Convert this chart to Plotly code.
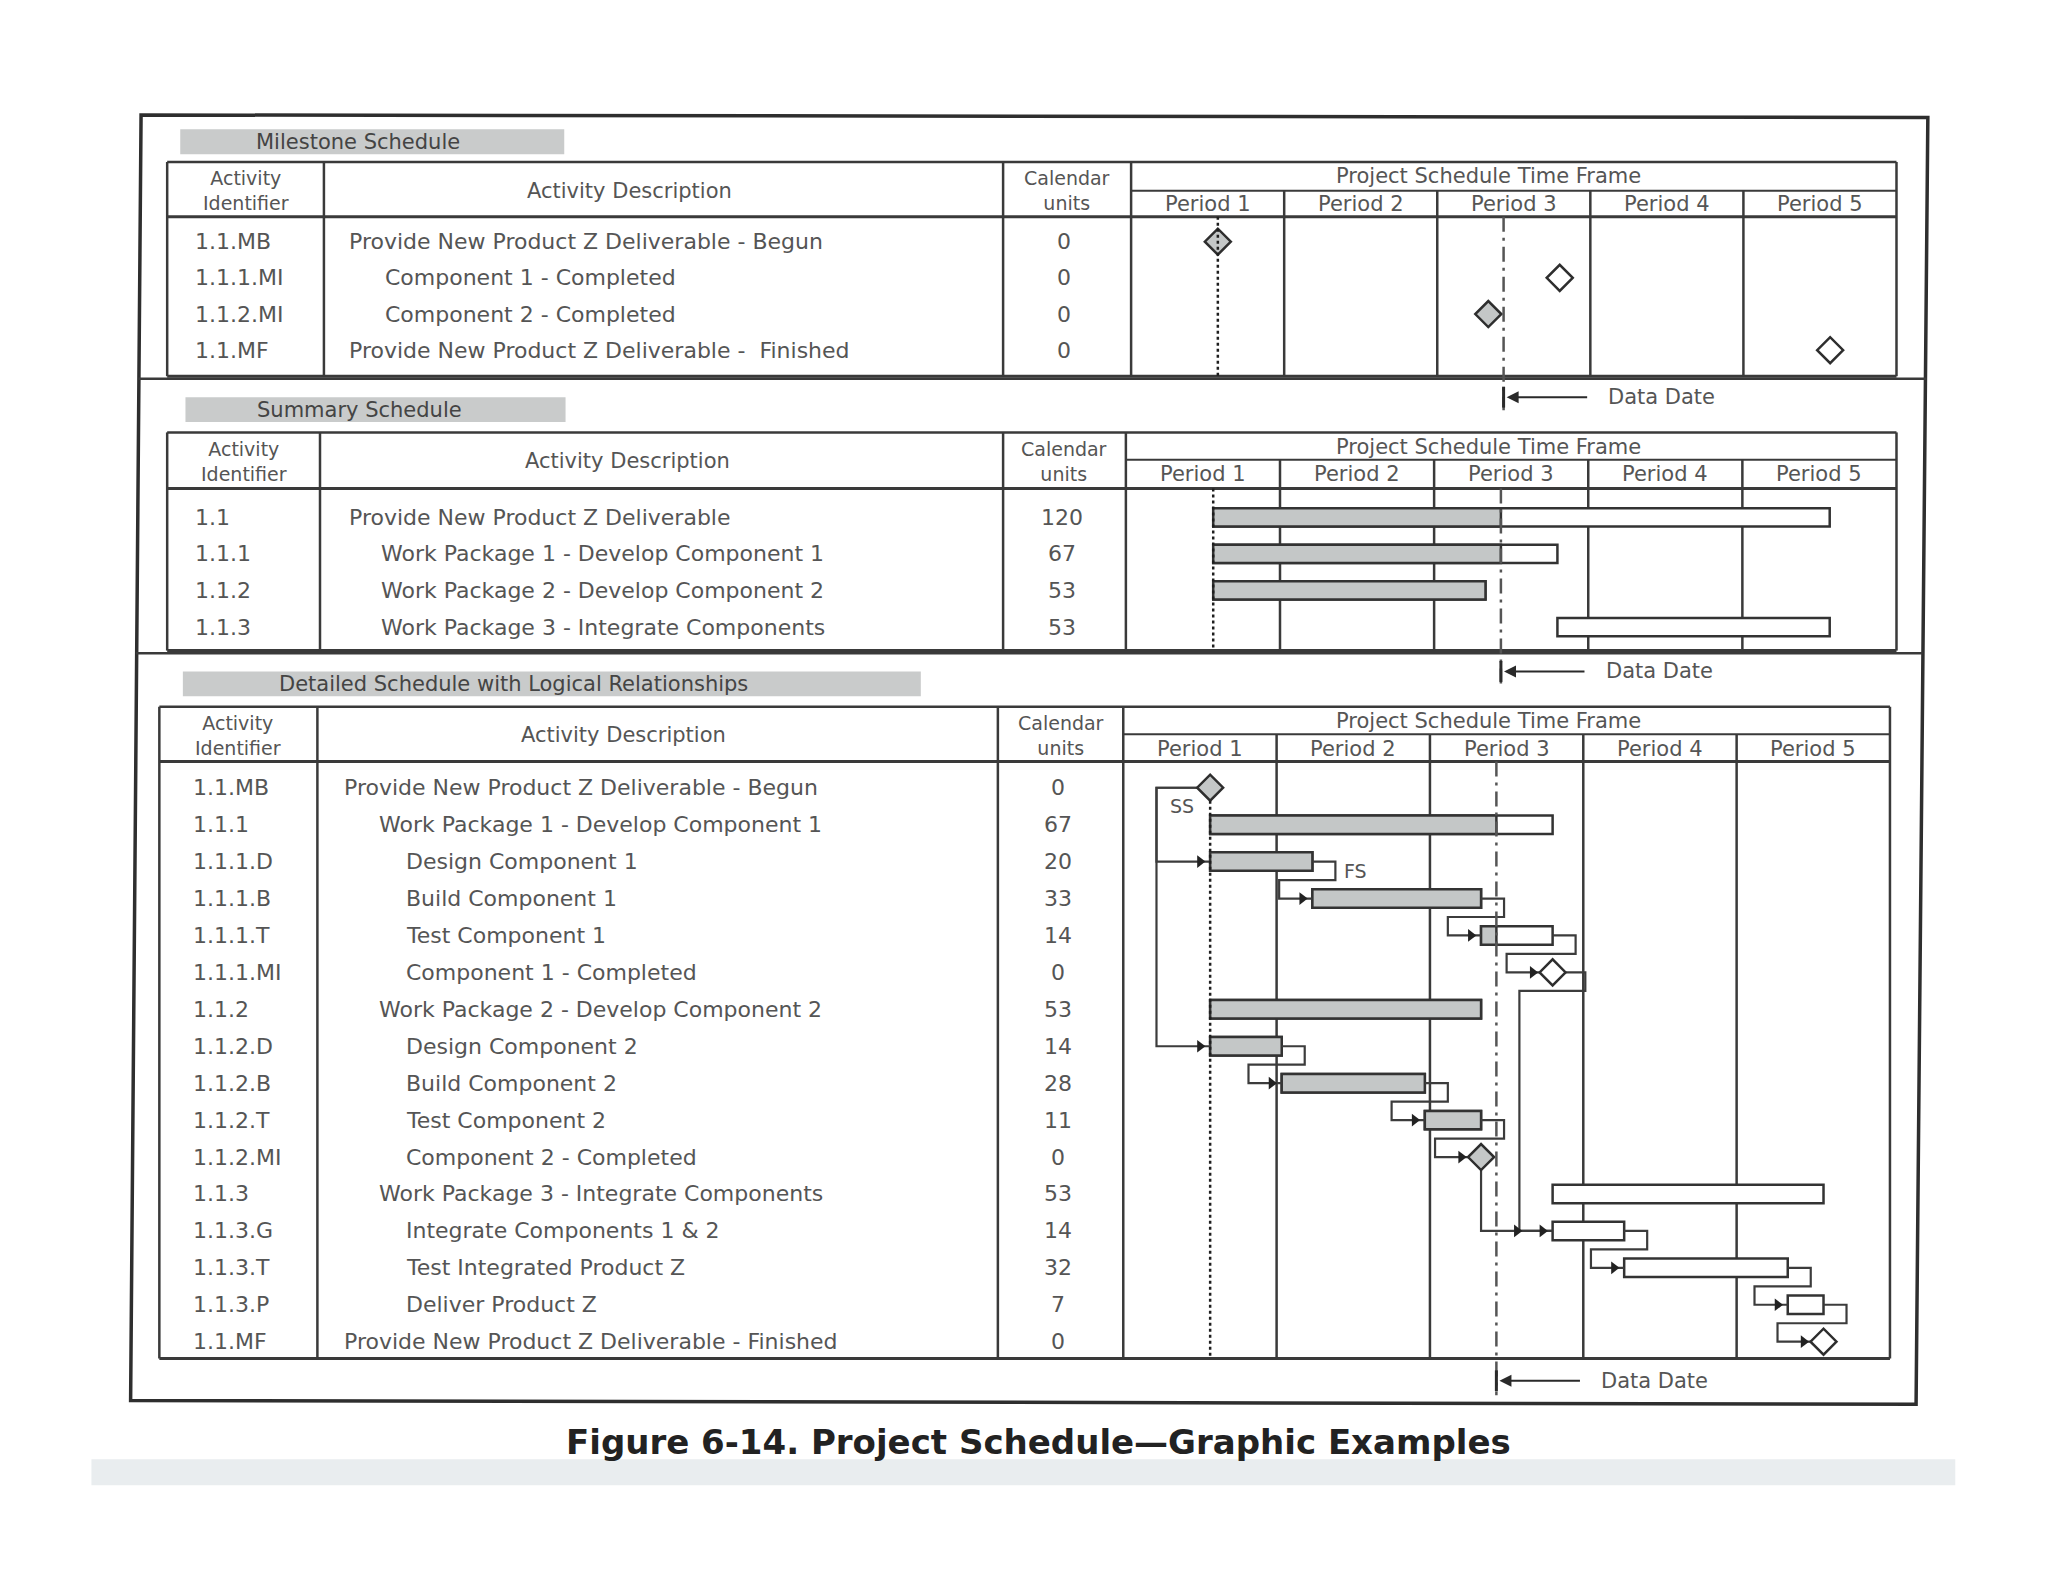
import plotly.graph_objects as go

# ---------------- data ----------------
period_labels = ["Period 1", "Period 2", "Period 3", "Period 4", "Period 5"]
period_length = 30
project_start = 17
data_date = 73

ms_ids = ["1.1.MB", "1.1.1.MI", "1.1.2.MI", "1.1.MF"]
ms_desc = ["Provide New Product Z Deliverable - Begun",
           "Component 1 - Completed",
           "Component 2 - Completed",
           "Provide New Product Z Deliverable -  Finished"]
ms_level = [0, 1, 1, 0]
ms_units = [0, 0, 0, 0]
ms_time = [17, 84, 70, 137]

sum_ids = ["1.1", "1.1.1", "1.1.2", "1.1.3"]
sum_desc = ["Provide New Product Z Deliverable",
            "Work Package 1 - Develop Component 1",
            "Work Package 2 - Develop Component 2",
            "Work Package 3 - Integrate Components"]
sum_level = [0, 1, 1, 1]
sum_units = [120, 67, 53, 53]
sum_start = [17, 17, 17, 84]

det_ids = ["1.1.MB", "1.1.1", "1.1.1.D", "1.1.1.B", "1.1.1.T", "1.1.1.MI",
           "1.1.2", "1.1.2.D", "1.1.2.B", "1.1.2.T", "1.1.2.MI",
           "1.1.3", "1.1.3.G", "1.1.3.T", "1.1.3.P", "1.1.MF"]
det_desc = ["Provide New Product Z Deliverable - Begun",
            "Work Package 1 - Develop Component 1",
            "Design Component 1", "Build Component 1", "Test Component 1",
            "Component 1 - Completed",
            "Work Package 2 - Develop Component 2",
            "Design Component 2", "Build Component 2", "Test Component 2",
            "Component 2 - Completed",
            "Work Package 3 - Integrate Components",
            "Integrate Components 1 & 2", "Test Integrated Product Z",
            "Deliver Product Z",
            "Provide New Product Z Deliverable - Finished"]
det_level = [0, 1, 2, 2, 2, 2, 1, 2, 2, 2, 2, 1, 2, 2, 2, 0]
det_units = [0, 67, 20, 33, 14, 0, 53, 14, 28, 11, 0, 53, 14, 32, 7, 0]
det_start = [17, 17, 17, 37, 70, 84, 17, 17, 31, 59, 70, 84, 84, 98, 130, 137]
det_links = [("1.1.MB", "1.1.1.D", "SS"), ("1.1.MB", "1.1.2.D", "SS"),
             ("1.1.1.D", "1.1.1.B", "FS"), ("1.1.1.B", "1.1.1.T", "FS"),
             ("1.1.1.T", "1.1.1.MI", "FS"), ("1.1.2.D", "1.1.2.B", "FS"),
             ("1.1.2.B", "1.1.2.T", "FS"), ("1.1.2.T", "1.1.2.MI", "FS"),
             ("1.1.1.MI", "1.1.3.G", "FS"), ("1.1.2.MI", "1.1.3.G", "FS"),
             ("1.1.3.G", "1.1.3.T", "FS"), ("1.1.3.T", "1.1.3.P", "FS"),
             ("1.1.3.P", "1.1.MF", "FS")]

title_text = "Figure 6-14. Project Schedule\u2014Graphic Examples"

# ---------------- layout geometry (reference grid 1568 x 1211) ----------------
GW, GH = 1568.0, 1211.0


def px(x):
    return x / GW


def py(y):
    return 1 - y / GH


LINE = "#3a3a3a"
TXT = "#555555"
GRAY = "#c4c7c7"
FONT = "DejaVu Sans"
BODY = 22

SECT = [
    dict(label="Milestone Schedule", label_x=274, box=(138, 432, 99, 118), left=128, right=1452,
         top=124, hdr=166, sub=146, bottom=288, c1=248, c2=768, c3=866, id_x=148,
         desc_x=(266, 293, 309), units_x=815, row0=185, pitch=27.7, dd_y=304, dd_end=314,
         hdr_y=146, pstf_y=135, per_y=156, start_top=166),
    dict(label="Summary Schedule", label_x=275, box=(142, 433, 304, 323), left=128, right=1452,
         top=331, hdr=374, sub=352, bottom=498, c1=245, c2=768, c3=862, id_x=148,
         desc_x=(266, 290, 309), units_x=813, row0=396, pitch=28.0, dd_y=514, dd_end=524,
         hdr_y=353, pstf_y=342, per_y=363, start_top=374),
    dict(label="Detailed Schedule with Logical Relationships", label_x=393,
         box=(140, 705, 514, 533), left=122, right=1447, top=541, hdr=583, sub=562, bottom=1040,
         c1=243, c2=764, c3=860, id_x=146, desc_x=(262, 289, 309), units_x=810, row0=603,
         pitch=28.27, dd_y=1057, dd_end=1068, hdr_y=563, pstf_y=552, per_y=573, start_top=613),
]

XMAX = period_length * len(period_labels)

fig = go.Figure()
shapes = []
annots = []


def hline(x0, x1, y, w=2.5, color=LINE):
    shapes.append(dict(type="line", xref="paper", yref="paper", x0=px(x0), x1=px(x1),
                       y0=py(y), y1=py(y), line=dict(color=color, width=w), layer="below"))


def vline(x, y0, y1, w=2.5, color=LINE):
    shapes.append(dict(type="line", xref="paper", yref="paper", x0=px(x), x1=px(x),
                       y0=py(y0), y1=py(y1), line=dict(color=color, width=w), layer="below"))


def text(x, y, s, size=BODY, anchor="center", color=TXT, xref="paper", yref="paper", bold=False):
    annots.append(dict(x=x, y=y, xref=xref, yref=yref, text=("<b>%s</b>" % s) if bold else s,
                       showarrow=False, xanchor=anchor, yanchor="middle",
                       font=dict(family=FONT, size=size, color=color)))


# outer frame (slightly skewed scan)
shapes.append(dict(type="path", xref="paper", yref="paper",
                   path="M %f,%f L %f,%f L %f,%f L %f,%f Z" % (
                       px(108), py(88), px(1476), py(90), px(1467), py(1075), px(100), py(1072)),
                   line=dict(color="#2e2e2e", width=3.5), layer="below"))
hline(106, 1475, 290, 2.5)
hline(104, 1472, 500, 2.5)
# faint scan band under the caption
shapes.append(dict(type="rect", xref="paper", yref="paper", x0=px(70), x1=px(1497),
                   y0=py(1137), y1=py(1117), fillcolor="#e9edef", line=dict(width=0), layer="below"))

layout_axes = {}
for k, s in enumerate(SECT, start=1):
    xa = "x" if k == 1 else "x%d" % k
    ya = "y" if k == 1 else "y%d" % k
    xkey = "xaxis" if k == 1 else "xaxis%d" % k
    ykey = "yaxis" if k == 1 else "yaxis%d" % k
    ymax = (s["bottom"] - s["row0"]) / s["pitch"]
    ymin = (s["hdr"] - s["row0"]) / s["pitch"]
    layout_axes[xkey] = dict(domain=[px(s["c3"]), px(s["right"])], range=[0, XMAX], visible=False,
                             anchor=ya, fixedrange=True)
    layout_axes[ykey] = dict(domain=[py(s["bottom"]), py(s["hdr"])], range=[ymax, ymin],
                             visible=False, anchor=xa, fixedrange=True)

    # label box
    bx0, bx1, by0, by1 = s["box"]
    shapes.append(dict(type="rect", xref="paper", yref="paper", x0=px(bx0), x1=px(bx1),
                       y0=py(by1), y1=py(by0), fillcolor="#c9cbcb", line=dict(width=0), layer="below"))
    text(px(s["label_x"]), py((by0 + by1) / 2), s["label"], size=21, color="#444444")

    # table frame
    hline(s["left"], s["right"], s["top"], 2.5)
    hline(s["left"], s["right"], s["bottom"], 3)
    hline(s["left"], s["right"], s["hdr"], 3)
    hline(s["c3"], s["right"], s["sub"], 2)
    for cx in (s["left"], s["c1"], s["c2"], s["c3"], s["right"]):
        vline(cx, s["top"], s["bottom"], 2.5)
    # period dividers through the time-frame area
    for i in range(1, len(period_labels)):
        shapes.append(dict(type="line", xref=xa, yref="paper", x0=i * period_length,
                           x1=i * period_length, y0=py(s["sub"]), y1=py(s["bottom"]),
                           line=dict(color=LINE, width=2.5), layer="below"))

    # header texts
    text(px((s["left"] + s["c1"]) / 2), py(s["hdr_y"]), "Activity<br>Identifier", size=19)
    text(px(s["c1"] + (s["c2"] - s["c1"]) * 0.45), py(s["hdr_y"]), "Activity Description", size=21)
    text(px((s["c2"] + s["c3"]) / 2), py(s["hdr_y"]), "Calendar<br>units", size=19)
    text(px(1140), py(s["pstf_y"]), "Project Schedule Time Frame", size=21)
    for i, lab in enumerate(period_labels):
        text(period_length * (i + 0.5), py(s["per_y"]), lab, size=21, xref=xa)

    # project start (dotted) and data date (dash-dot) lines
    shapes.append(dict(type="line", xref=xa, yref="paper", x0=project_start, x1=project_start,
                       y0=py(s["start_top"]), y1=py(s["bottom"]),
                       line=dict(color="#1e1e1e", width=2.5, dash="dot"), layer="above"))
    shapes.append(dict(type="line", xref=xa, yref="paper", x0=data_date, x1=data_date,
                       y0=py(s["hdr"]), y1=py(s["dd_end"]),
                       line=dict(color="#555555", width=2.5, dash="longdashdot"), layer="above"))
    # data date marker
    shapes.append(dict(type="line", xref=xa, yref="paper", x0=data_date, x1=data_date,
                       y0=py(s["dd_y"] - 8), y1=py(s["dd_y"] + 8),
                       line=dict(color="#2a2a2a", width=3), layer="above"))
    annots.append(dict(x=data_date + 0.6, y=py(s["dd_y"]), xref=xa, yref="paper", text="",
                       showarrow=True, ax=82, ay=0, arrowhead=2, arrowsize=1.2, arrowwidth=2,
                       arrowcolor="#2a2a2a"))
    text(data_date + 20, py(s["dd_y"]), "Data Date", size=21, anchor="left", xref=xa)

# ---------------- milestone section ----------------
for i in range(len(ms_ids)):
    s = SECT[0]
    text(px(s["id_x"]), i, ms_ids[i], anchor="left", yref="y")
    text(px(s["desc_x"][ms_level[i]]), i, ms_desc[i], anchor="left", yref="y")
    text(px(s["units_x"]), i, str(ms_units[i]), yref="y")

fig.add_trace(go.Scatter(
    x=ms_time, y=list(range(len(ms_ids))), mode="markers", xaxis="x", yaxis="y",
    marker=dict(symbol="diamond", size=20,
                color=[GRAY if t <= data_date else "white" for t in ms_time],
                line=dict(color="#2e2e2e", width=2.5)),
    cliponaxis=False, showlegend=False, hoverinfo="skip"))

# ---------------- summary section ----------------
for i in range(len(sum_ids)):
    s = SECT[1]
    text(px(s["id_x"]), i, sum_ids[i], anchor="left", yref="y2")
    text(px(s["desc_x"][sum_level[i]]), i, sum_desc[i], anchor="left", yref="y2")
    text(px(s["units_x"]), i, str(sum_units[i]), yref="y2")

sum_rows = list(range(len(sum_ids)))
fig.add_trace(go.Bar(y=sum_rows, x=sum_units, base=sum_start, orientation="h", width=0.5,
                     xaxis="x2", yaxis="y2", marker=dict(color="white", line=dict(color="#333333", width=2.5)),
                     showlegend=False, hoverinfo="skip"))
sp_rows, sp_base, sp_len = [], [], []
for r, st, u in zip(sum_rows, sum_start, sum_units):
    done = min(st + u, data_date) - st
    if done > 0:
        sp_rows.append(r)
        sp_base.append(st)
        sp_len.append(done)
fig.add_trace(go.Bar(y=sp_rows, x=sp_len, base=sp_base, orientation="h", width=0.5,
                     xaxis="x2", yaxis="y2", marker=dict(color=GRAY, line=dict(color="#333333", width=2.5)),
                     showlegend=False, hoverinfo="skip"))

# ---------------- detailed section ----------------
for i in range(len(det_ids)):
    s = SECT[2]
    text(px(s["id_x"]), i, det_ids[i], anchor="left", yref="y3")
    text(px(s["desc_x"][det_level[i]]), i, det_desc[i], anchor="left", yref="y3")
    text(px(s["units_x"]), i, str(det_units[i]), yref="y3")

bar_rows = [i for i in range(len(det_ids)) if det_units[i] > 0]
fig.add_trace(go.Bar(y=bar_rows, x=[det_units[i] for i in bar_rows],
                     base=[det_start[i] for i in bar_rows], orientation="h", width=0.5,
                     xaxis="x3", yaxis="y3",
                     marker=dict(color="white", line=dict(color="#333333", width=2.5)),
                     showlegend=False, hoverinfo="skip"))
dp_rows, dp_base, dp_len = [], [], []
for i in bar_rows:
    done = min(det_start[i] + det_units[i], data_date) - det_start[i]
    if done > 0:
        dp_rows.append(i)
        dp_base.append(det_start[i])
        dp_len.append(done)
fig.add_trace(go.Bar(y=dp_rows, x=dp_len, base=dp_base, orientation="h", width=0.5,
                     xaxis="x3", yaxis="y3",
                     marker=dict(color=GRAY, line=dict(color="#333333", width=2.5)),
                     showlegend=False, hoverinfo="skip"))

# logical relationship connectors
DIAM = 1.9
arrow_x, arrow_y = [], []
for pred, succ, kind in det_links:
    pr, sr = det_ids.index(pred), det_ids.index(succ)
    p_ms = det_units[pr] == 0
    s_ms = det_units[sr] == 0
    p_end = det_start[pr] + det_units[pr]
    s_start = det_start[sr]
    s_edge = s_start - (DIAM if s_ms else 0)
    if kind == "SS":
        x0 = det_start[pr] - DIAM
        xl = det_start[pr] - 10.5
        xs, ys = [x0, xl, xl, s_edge], [pr, pr, sr, sr]
    elif s_start - p_end > 8:
        xs, ys = [p_end, p_end, s_edge], [pr, sr, sr]
    else:
        x0 = p_end + (DIAM if p_ms else 0)
        xr = x0 + 4.5
        xl = s_start - (9 if s_ms else 6.5)
        ym = pr + 0.5
        xs, ys = [x0, xr, xr, xl, xl, s_edge], [pr, pr, ym, ym, sr, sr]
    fig.add_trace(go.Scatter(x=xs, y=ys, mode="lines", xaxis="x3", yaxis="y3",
                             line=dict(color="#3c3c3c", width=2.2), showlegend=False,
                             hoverinfo="skip", cliponaxis=False))
    seg = s_edge - xs[-2]
    arrow_x.append((xs[-2] + s_edge) / 2 if seg > 12 else s_edge - 2.0)
    arrow_y.append(sr)

fig.add_trace(go.Scatter(x=arrow_x, y=arrow_y, mode="markers", xaxis="x3", yaxis="y3",
                         marker=dict(symbol="triangle-right", size=11, color="#222222"),
                         showlegend=False, hoverinfo="skip", cliponaxis=False))

ms_rows = [i for i in range(len(det_ids)) if det_units[i] == 0]
fig.add_trace(go.Scatter(
    x=[det_start[i] for i in ms_rows], y=ms_rows, mode="markers", xaxis="x3", yaxis="y3",
    marker=dict(symbol="diamond", size=20,
                color=[GRAY if det_start[i] <= data_date else "white" for i in ms_rows],
                line=dict(color="#2e2e2e", width=2.5)),
    cliponaxis=False, showlegend=False, hoverinfo="skip"))

text(11.5, 0.5, "SS", size=19, xref="x3", yref="y3")
text(45.5, 2.26, "FS", size=19, xref="x3", yref="y3")

# caption
text(px(795), py(1104), title_text, size=34, color="#222222", bold=True)

fig.update_layout(
    width=2048, height=1582, margin=dict(l=0, r=0, t=0, b=0),
    paper_bgcolor="white", plot_bgcolor="rgba(0,0,0,0)",
    barmode="overlay", showlegend=False,
    shapes=shapes, annotations=annots, **layout_axes)

fig.write_html("out.html", config={"displayModeBar": False},
               post_script="document.body.style.margin='0px';")
